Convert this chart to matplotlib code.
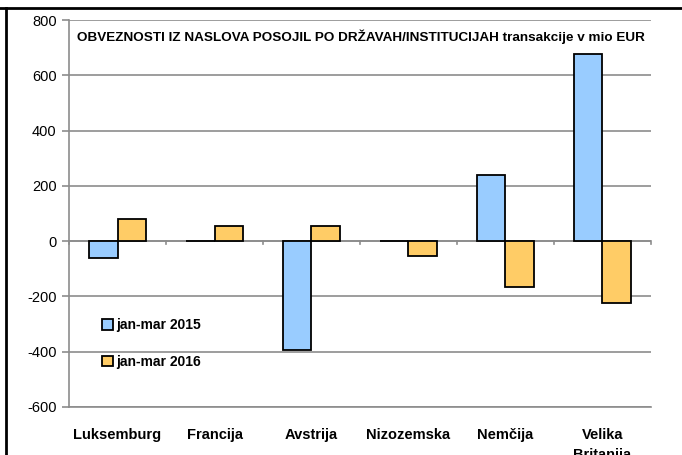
import matplotlib
matplotlib.use("Agg")
import matplotlib.pyplot as plt
from matplotlib.lines import Line2D
import numpy as np

plt.rcParams["font.family"] = ["Liberation Sans Narrow", "Liberation Sans", "DejaVu Sans"]
plt.rcParams["axes.unicode_minus"] = False

drzave = ["Luksemburg", "Francija", "Avstrija", "Nizozemska", "Nemčija", "Velika\nBritanija"]
jan_mar_2015 = [-61, 2, -393, 2, 241, 678]
jan_mar_2016 = [79, 54, 54, -55, -166, -224]
serije = ["jan-mar 2015", "jan-mar 2016"]
naslov = "OBVEZNOSTI IZ NASLOVA POSOJIL PO DRŽAVAH/INSTITUCIJAH transakcije v mio EUR"

fig = plt.figure(figsize=(6.82, 4.55), dpi=100)
ax = fig.add_axes([0.1012, 0.1055, 0.8533, 0.8505])

x = np.arange(len(drzave))
w = 0.29
ax.bar(x - w / 2, jan_mar_2015, w, color="#99CCFF", edgecolor="black", linewidth=1.3,
       label=serije[0], zorder=3)
ax.bar(x + w / 2, jan_mar_2016, w, color="#FFCC66", edgecolor="black", linewidth=1.3,
       label=serije[1], zorder=3)

ax.set_xlim(-0.5, len(drzave) - 0.5)
ax.set_ylim(-600, 800)
ax.set_yticks(np.arange(-600, 801, 200))
ax.grid(axis="y", color="#8c8c8c", linewidth=1.2, zorder=0)

# os x pri 0 z oznakami med kategorijami
ax.axhline(0, color="#8c8c8c", linewidth=1.2, zorder=2)
for b in np.arange(-0.5, len(drzave), 1.0):
    ax.plot([b, b], [0, -12], color="#8c8c8c", linewidth=1.2, zorder=2, clip_on=False)

for s in ["top", "right"]:
    ax.spines[s].set_visible(False)
ax.spines["left"].set_color("#8c8c8c")
ax.spines["left"].set_linewidth(1.2)
ax.spines["bottom"].set_color("#8c8c8c")
ax.spines["bottom"].set_linewidth(1.2)

ax.set_xticks(x)
ax.set_xticklabels(drzave, fontweight="bold", fontsize=10.5, va="top", linespacing=1.6)
ax.tick_params(axis="x", length=0, pad=15)
ax.tick_params(axis="y", length=5, color="#8c8c8c", width=1.2, labelsize=10.5, pad=4)

ax.text(0.014, 0.975, naslov, transform=ax.transAxes, fontsize=9.7, fontweight="bold",
        va="top", ha="left")

ax.legend(loc="center left", bbox_to_anchor=(0.057, 0.164), frameon=False,
          borderaxespad=0, borderpad=0,
          handlelength=0.8, handleheight=0.8, handletextpad=0.2,
          labelspacing=1.65, prop={"weight": "bold", "size": 10})

# okvir slike
fig.add_artist(Line2D([0, 1], [0.9824, 0.9824], color="black", linewidth=2))
fig.add_artist(Line2D([0.0088, 0.0088], [0, 0.9824], color="black", linewidth=2))

fig.savefig("out.png", dpi=100)
